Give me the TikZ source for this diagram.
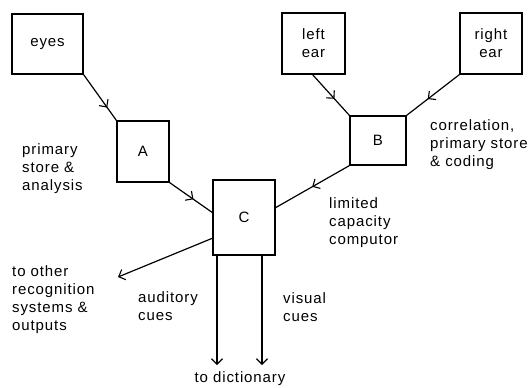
\documentclass[tikz,border=0pt]{standalone}
\usepackage{fontspec}
\setmainfont{Liberation Sans}[LetterSpace=6]
\usetikzlibrary{arrows.meta,decorations.markings}
\tikzset{
  vtip/.tip={Straight Barb[length=5.5pt,width=11pt,line width=1.1pt]},
  box/.style={draw, line width=1.2pt, inner sep=0pt, align=center},
  lbl/.style={anchor=west, inner sep=0pt, align=left},
  conn/.style={line width=1.2pt},
  midarrow/.style={postaction={decorate}, decoration={markings,
     mark=at position #1 with {\arrow{vtip}}}},
  endarrow/.style={-{vtip}}
}
\begin{document}
\begin{tikzpicture}[x=1pt,y=-1pt,font=\fontsize{15}{18}\selectfont]
\useasboundingbox (0,0) rectangle (531,388);
% boxes
\node[box, minimum width=71pt, minimum height=60pt] (eyes) at (47.5,44) {eyes};
\node[box, minimum width=52pt, minimum height=61pt] (A) at (143,151.5) {A};
\node[box, minimum width=63pt, minimum height=61pt] (lear) at (313.5,43.5) {left\\ear};
\node[box, minimum width=62pt, minimum height=61pt] (rear) at (491,43.5) {right\\ear};
\node[box, minimum width=56pt, minimum height=49pt] (B) at (378,140.5) {B};
\node[box, minimum width=62pt, minimum height=75pt] (C) at (244,217.5) {C};
% attachment points on C
\coordinate (Cin1) at (213,213);
\coordinate (Cin2) at (275,208);
\coordinate (Cout) at (213,238);
\coordinate (Cd1) at (217,255);
\coordinate (Cd2) at (262,255);
\coordinate (other) at (118,277);
\coordinate (dict1) at (217,365);
\coordinate (dict2) at (262,365);
\coordinate (learb) at (312,74);
% connectors
\draw[conn, midarrow=0.72] (eyes.south east) -- (A.north west);
\draw[conn, midarrow=0.55] (A.south east) -- (Cin1);
\draw[conn, midarrow=0.6] (learb) -- (B.north west);
\draw[conn, midarrow=0.6] (rear.south west) -- (B.north east);
\draw[conn, midarrow=0.5] (B.south west) -- (Cin2);
\draw[conn, endarrow] (Cout) -- (other);
\draw[conn, endarrow] (Cd1) -- (dict1);
\draw[conn, endarrow] (Cd2) -- (dict2);
% labels
\node[lbl] (l1) at (22,169) {primary\\store \&\\analysis};
\node[lbl] (l2) at (430,145) {correlation,\\primary store\\\& coding};
\node[lbl] (l3) at (329,223) {limited\\capacity\\computor};
\node[lbl] (l4) at (12,300) {to other\\recognition\\systems \&\\outputs};
\node[lbl] (l5) at (138,306.5) {auditory\\cues};
\node[lbl] (l6) at (283,307.5) {visual\\cues};
\node[inner sep=0pt] (l7) at (240,379) {to dictionary};
\end{tikzpicture}
\end{document}
